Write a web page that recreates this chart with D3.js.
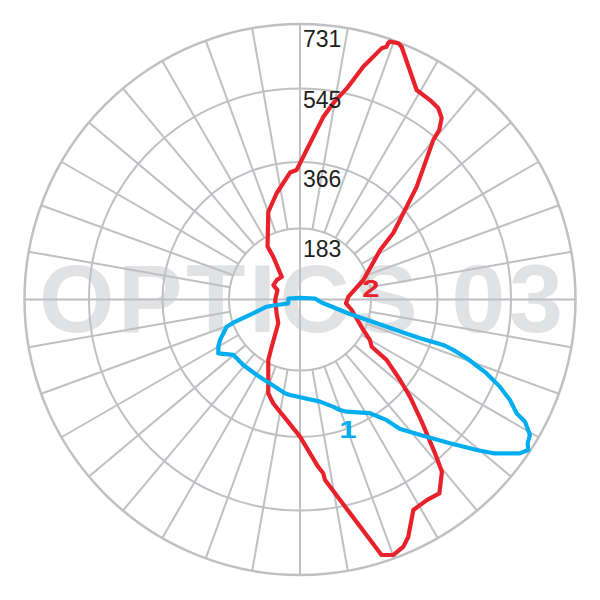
<!DOCTYPE html>
<html><head><meta charset="utf-8">
<script src="https://cdn.jsdelivr.net/npm/d3@7"></script>
<style>html,body{margin:0;padding:0;background:#fff}</style>
</head><body>
<svg id="c" width="600" height="600"></svg>
<script>
// ---- data ----
const ringValues = [183, 366, 545, 731];
const ringLabels = ["183", "366", "545", "731"];
const spokeAngles = [0,10,20,30,40,50,60,70,80,90,100,110,120,130,140,150,160,170,180,190,200,210,220,230,240,250,260,270,280,290,300,310,320,330,340,350];
const watermark = "OPTICS 03";
const seriesNames = ["1", "2"];

// curve 2 (red): angle in degrees clockwise from top, luminous intensity
const redAngles = [19.2,19.0,18.9,18.0,15.2,12.5,9.6,7.3,358.5,355.5,347.6,340.1,328.5,328.0,321.2,309.9,298.5,292.7,268.9,239.4,222.4,210.9,207.7,198.7,194.4,185.5,180,173.8,172.4,172.1,166.8,162.3,159.9,157.3,155.5,151.7,147.7,144.3,140.5,138.7,135.1,131.5,128.8,124.9,123.4,120.1,115.7,101.5,94.7,86.7,72.9,58.3,54.6,51.5,46.0,39.9,39.4,38.0,35.9,33.1,29.1,21.9,21.0];
const redValues = [724,720,707,698,632,560,516,480,344,338,287,244,160,130,75,78,78,63,64,70,83,142,176,260,283,326,365,441,458,475,570,710,721,709,689,626,621,625,580,529,451,389,341,278,224,210,181,136,119,125,171,247,302,339,426,537,569,600,617,623,628,722,728];

// curve 1 (blue)
const blueAngles = [252.0,274.9,0,86.2,97.9,106.2,107.4,107.7,107.9,107.6,108.2,109.4,111.6,113.6,115.6,117.7,118.5,120.5,122.3,123.4,125.0,128.5,130.4,133.8,137.3,142.3,144.3,148.4,157.4,160.1,162.7,168.9,186.0,189.1,199.7,209.8,220.9,230.2,236.6,240.0,243.2,246.2,249.6,250.8,253.5,257.8,256.7];
const blueValues = [32,30,4,39,56,134,238,277,335,397,424,462,520,566,608,642,675,706,713,725,710,649,606,537,486,430,393,355,322,311,297,274,252,249,233,227,226,226,257,247,234,218,203,182,126,88,62];

// ---- layout ----
const cx = 300, cy = 299.5, R = 275.5;
const ringFrac = [0, 0.2577, 0.4991, 0.7659, 1];
const labelDy = [28, 25, 19, 23];
const gridColor = "#bfc0c4";
const red = "#e8212b", blue = "#00aeef";
const font = '"Liberation Sans", Arial, Helvetica, sans-serif';
const rad = Math.PI / 180;

const r = d3.scaleLinear().domain([0, ...ringValues]).range(ringFrac.map(f => f * R));

const svg = d3.select("#c");

// watermark
svg.append("text")
  .attr("x", 301).attr("y", 331.5)
  .attr("text-anchor", "middle")
  .attr("font-family", font).attr("font-weight", "bold").attr("font-size", 97)
  .attr("fill", "#e1e2e4")
  .attr("textLength", 524).attr("lengthAdjust", "spacing")
  .text(watermark);

const g = svg.append("g").attr("transform", `translate(${cx},${cy})`);

// spokes
g.selectAll("line.spoke").data(spokeAngles).join("line")
  .attr("class", "spoke")
  .attr("x1", d => (d % 90 === 0 ? 0 : r(ringValues[0])) * Math.sin(d * rad))
  .attr("y1", d => -(d % 90 === 0 ? 0 : r(ringValues[0])) * Math.cos(d * rad))
  .attr("x2", d => R * Math.sin(d * rad))
  .attr("y2", d => -R * Math.cos(d * rad))
  .attr("stroke", gridColor).attr("stroke-width", 2);

// rings
g.selectAll("circle.ring").data(ringValues).join("circle")
  .attr("class", "ring")
  .attr("r", d => r(d))
  .attr("fill", "none").attr("stroke", gridColor).attr("stroke-width", d => d === ringValues[ringValues.length-1] ? 2.5 : 2);

// curves
function drawCurve(angles, values, color) {
  const line = d3.lineRadial()
    .angle((d, i) => angles[i] * rad)
    .radius((d, i) => r(values[i]))
    .curve(d3.curveLinearClosed);
  g.append("path").datum(values).attr("d", line)
    .attr("fill", "none").attr("stroke", color)
    .attr("stroke-width", 4.2).attr("stroke-linejoin", "round");
}
drawCurve(redAngles, redValues, red);
drawCurve(blueAngles, blueValues, blue);

// ring labels
g.selectAll("text.rl").data(ringValues).join("text")
  .attr("class", "rl")
  .attr("x", 3).attr("y", (d, i) => -r(d) + labelDy[i])
  .attr("font-family", font).attr("font-size", 23).attr("fill", "#231f20")
  .text((d, i) => ringLabels[i]);

// series labels
const seriesColor = [blue, red];
const seriesPos = [[348, 438.3], [371, 297.3]];
seriesNames.forEach((n, i) => {
  svg.append("text")
    .attr("transform", `translate(${seriesPos[i][0]},${seriesPos[i][1]}) scale(1.3,1)`)
    .attr("text-anchor", "middle")
    .attr("font-family", font).attr("font-weight", "bold").attr("font-size", 24)
    .attr("fill", seriesColor[i])
    .text(n);
});
</script>
</body></html>
